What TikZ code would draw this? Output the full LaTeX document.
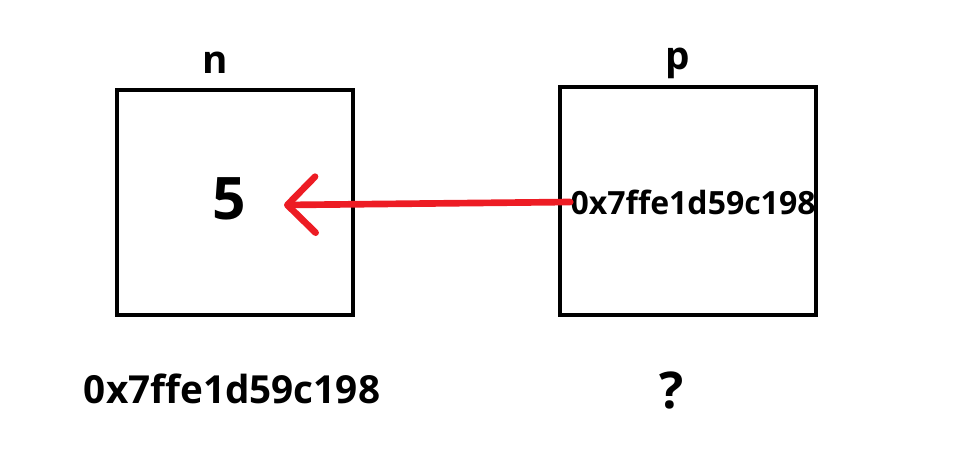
\documentclass[tikz,border=0pt]{standalone}
\usepackage{fontspec}
\setmainfont{Open Sans}
\usetikzlibrary{arrows.meta, positioning}
\definecolor{inkred}{RGB}{237,28,36}

\begin{document}
\begin{tikzpicture}[
  x=0.75pt, y=-0.75pt, font=\bfseries,
  cell/.style={draw, line width=3pt, inner sep=0pt},
  varname/.style={font=\bfseries\fontsize{29}{30}\selectfont, inner sep=0pt},
  addrtext/.style={font=\bfseries\fontsize{#1}{#1}\selectfont, inner sep=0pt},
  ptr/.style={-{Straight Barb[length=21pt, width=42pt, line width=5pt, round]},
              line width=5pt, inkred, line cap=round},
]
\useasboundingbox (0,0) rectangle (967,454);

% ---- the two memory cells ----
\node[cell, minimum width=177pt, minimum height=169pt] (nbox) at (235,202.5) {};
\node[cell, minimum width=192pt, minimum height=171pt] (pbox) at (688,201) {};

\node[varname, above=11pt of nbox.north, xshift=-15pt, anchor=base] (nlab) {n};
\node[varname, above=12pt of pbox.north, xshift=-7.5pt, anchor=base] (plab) {p};

% ---- contents ----
\node[addrtext=44] (five) at (229,199) {5};
\node[addrtext=24] (pval) at (693,202) {0x7ffe1d59c198};

% ---- addresses below ----
\node[addrtext=29] (naddr) at (232,389) {0x7ffe1d59c198};
\node[addrtext=38] (paddr) at (672,390) {?};

% ---- pointer ----
\coordinate (tip) at (284,205);
\draw[ptr] (pval.west) -- (tip);

\end{tikzpicture}
\end{document}
